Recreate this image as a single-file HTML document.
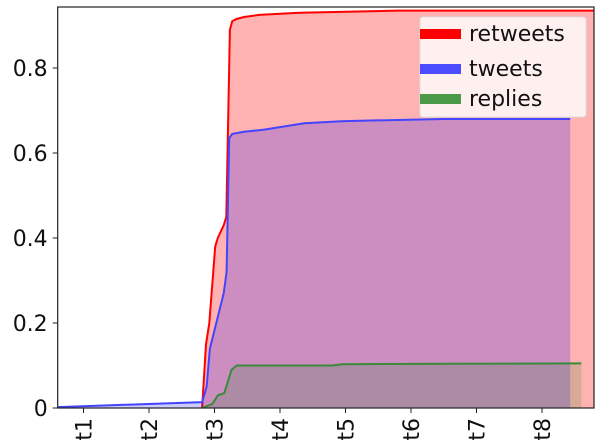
<!DOCTYPE html>
<html><head><meta charset="utf-8"><style>
html,body{margin:0;padding:0;background:#fff;width:600px;height:448px;overflow:hidden}
svg{display:block;font-family:"DejaVu Sans","Liberation Sans",sans-serif}
</style></head><body>
<svg id="chart" width="600" height="448" viewBox="0 0 600 448"></svg>
<script>
const xTickLabels = ["t1","t2","t3","t4","t5","t6","t7","t8"];
const yTicks = [0,0.2,0.4,0.6,0.8];
const yTickLabels = ["0","0.2","0.4","0.6","0.8"];
const retweetsX = [2.81,2.87,2.92,3.01,3.05,3.14,3.18,3.235,3.27,3.33,3.45,3.68,4.3,5.8,7.5,8.79];
const retweetsY = [0,0.15,0.20,0.38,0.40,0.43,0.45,0.89,0.91,0.915,0.92,0.925,0.93,0.935,0.935,0.935];
const tweetsX = [0.6,2.81,2.88,2.93,3.14,3.185,3.225,3.27,3.45,3.76,4.37,4.98,6.5,8.43];
const tweetsY = [0.002,0.014,0.05,0.14,0.27,0.32,0.635,0.645,0.65,0.655,0.67,0.675,0.68,0.68];
const repliesX = [2.81,2.97,3.05,3.15,3.26,3.34,4.8,4.95,6.5,8.6];
const repliesY = [0,0.01,0.03,0.035,0.09,0.10,0.10,0.103,0.104,0.105];

const NS="http://www.w3.org/2000/svg";
const svg=document.getElementById('chart');
const L=57.7,R=594,T=7,B=408;
const xs=t=>83.5+(t-1)*65.5;
const ys=v=>B-v*425;
function mk(tag,attrs,parent){const e=document.createElementNS(NS,tag);for(const k in attrs)e.setAttribute(k,attrs[k]);(parent||svg).appendChild(e);return e;}
const defs=mk('defs',{});
const cp=mk('clipPath',{id:'clip'},defs);
mk('rect',{x:L,y:T,width:R-L,height:B-T},cp);
const g=mk('g',{'clip-path':'url(#clip)'});
function series(X,Y,color,fill,op,name){
  let dl='';
  X.forEach((x,i)=>{const p=xs(x).toFixed(1)+','+ys(Y[i]).toFixed(1);dl+=(i?'L':'M')+p;});
  const d=dl+'L'+xs(X[X.length-1]).toFixed(1)+','+B+'L'+xs(X[0]).toFixed(1)+','+B+'Z';
  const a=mk('path',{d:d,fill:fill,'fill-opacity':op,stroke:'none'},g);
  
  
  const l=mk('path',{d:dl,fill:'none',stroke:color,'stroke-width':2},g);
  
  
}
series(retweetsX,retweetsY,'#ff0000','#ff0000',0.3,'retweets');
series(tweetsX,tweetsY,'#4444ff','#0000ff',0.2,'tweets');
series(repliesX,repliesY,'#3a8a3a','#008000',0.15,'replies');
const frame=mk('rect',{x:L,y:T,width:R-L,height:B-T,fill:'none',stroke:'#222','stroke-width':1.2});


yTicks.forEach((v,i)=>{
  const y=ys(v);
  mk('line',{x1:L-5,x2:L,y1:y,y2:y,stroke:'#222'});
  const t=mk('text',{x:L-10,y:y+8,'text-anchor':'end','font-size':22,fill:'#111'});
  t.textContent=yTickLabels[i];
  
  
});
xTickLabels.forEach((lab,i)=>{
  const x=xs(i+1);
  mk('line',{x1:x,x2:x,y1:B,y2:B+5,stroke:'#222'});
  const t=mk('text',{x:0,y:0,'text-anchor':'end','font-size':22,fill:'#111',transform:`translate(${x+8},${B+10}) rotate(-90)`});
  t.textContent=lab;
  
  
});
const lg=mk('g',{});


mk('rect',{x:420,y:17,width:166,height:100,rx:3,fill:'#fff','fill-opacity':0.8,stroke:'#ddd'},lg);
[['retweets','#ff0000',34],['tweets','#4c4cff',69],['replies','#4a9a4a',99]].forEach(e=>{
  const r=mk('rect',{x:420,y:e[2]-5,width:41,height:10,fill:e[1]},lg);
  
  
  const t=mk('text',{x:469,y:e[2]+7,'font-size':22,fill:'#111'},lg);
  t.textContent=e[0];
  
  
});
</script>
</body></html>
